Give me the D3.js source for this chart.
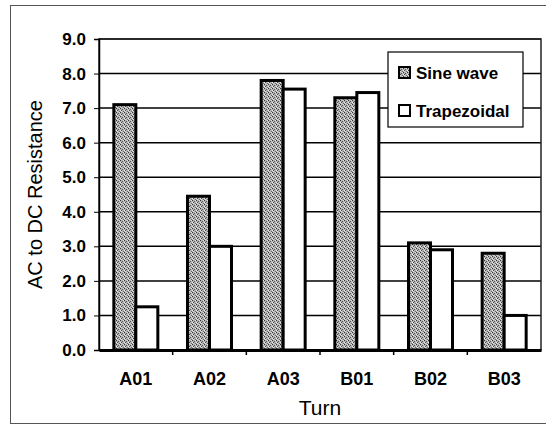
<!DOCTYPE html>
<html>
<head>
<meta charset="utf-8">
<script src="https://cdn.jsdelivr.net/npm/d3@7"></script>
<style>
  body { margin: 0; background: #fff; }
  svg { display: block; font-family: 'Liberation Sans', Arial, sans-serif; }
</style>
</head>
<body>
<svg width="546" height="425"></svg>
<script>
const turns = ['A01', 'A02', 'A03', 'B01', 'B02', 'B03']
const seriesNames = ['Sine wave', 'Trapezoidal']
const sineWave = [7.1, 4.45, 7.8, 7.3, 3.1, 2.8]
const trapezoidal = [1.25, 3.0, 7.55, 7.45, 2.9, 1.0]
const yTicks = [0, 1, 2, 3, 4, 5, 6, 7, 8, 9]

const svg = d3.select('svg')
const font = "'Liberation Sans', Arial, sans-serif"

// speckled gray fill for the sine wave bars
const defs = svg.append('defs')
const pat = defs.append('pattern')
  .attr('id', 'dots')
  .attr('width', 4).attr('height', 4)
  .attr('patternUnits', 'userSpaceOnUse')
pat.append('rect').attr('width', 4).attr('height', 4).attr('fill', '#b4b4b4')
const speck = [[0, 0, '#333'], [2, 1, '#555'], [1, 2, '#444'], [3, 3, '#666'], [3, 0, '#e0e0e0'], [1, 3, '#ddd'], [0, 2, '#eee']]
pat.selectAll('rect.s')
  .data(speck)
  .join('rect')
  .attr('class', 's')
  .attr('x', (d) => d[0]).attr('y', (d) => d[1])
  .attr('width', 1).attr('height', 1)
  .attr('fill', (d) => d[2])

// outer frame
svg.append('rect')
  .attr('x', 10.5).attr('y', 5.5)
  .attr('width', 540).attr('height', 418)
  .attr('fill', 'none').attr('stroke', '#555').attr('stroke-width', 1)

const plotLeft = 99, plotRight = 541, plotTop = 39, plotBottom = 350

const x = d3.scaleBand().domain(turns).range([plotLeft, plotRight])
const inner = d3.scaleBand().domain(seriesNames).range([0, 44])
const y = d3.scaleLinear().domain([0, 9]).range([plotBottom, plotTop])

// gridlines
svg.append('g')
  .selectAll('line')
  .data(yTicks.slice(1))
  .join('line')
  .attr('x1', plotLeft).attr('x2', plotRight)
  .attr('y1', (d) => y(d))
  .attr('y2', (d) => y(d))
  .attr('stroke', '#000').attr('stroke-width', 1.5)

// plot border
svg.append('rect')
  .attr('x', plotLeft).attr('y', plotTop)
  .attr('width', plotRight - plotLeft).attr('height', plotBottom - plotTop)
  .attr('fill', 'none').attr('stroke', '#222').attr('stroke-width', 1.5)

// bars
const data = []
turns.forEach((t, i) => {
  data.push({ turn: t, series: seriesNames[0], value: sineWave[i] })
  data.push({ turn: t, series: seriesNames[1], value: trapezoidal[i] })
})
const groupOffset = (x.bandwidth() - 44) / 2
svg.append('g')
  .selectAll('rect')
  .data(data)
  .join('rect')
  .attr('x', (d) => x(d.turn) + groupOffset + inner(d.series))
  .attr('width', inner.bandwidth())
  .attr('y', (d) => y(d.value))
  .attr('height', (d) => y(0) - y(d.value))
  .attr('fill', (d) => (d.series === seriesNames[0] ? 'url(#dots)' : '#fff'))
  .attr('stroke', '#000').attr('stroke-width', 3)

// y axis
const yAxis = svg.append('g')
  .attr('transform', `translate(${plotLeft},0)`)
  .call(d3.axisLeft(y).tickValues(yTicks).tickFormat(d3.format('.1f')).tickSize(5).tickPadding(8))
yAxis.select('.domain').attr('stroke', '#000').attr('stroke-width', 1.5)
yAxis.selectAll('.tick line').attr('stroke', '#000')
yAxis.selectAll('text')
  .attr('font-size', 17).attr('fill', '#000')
  .attr('font-family', font)
  .style('font-weight', 'bold')

// x axis
const xAxis = svg.append('g')
  .attr('transform', `translate(0,${plotBottom})`)
  .call(d3.axisBottom(x).tickSize(0).tickPadding(22))
xAxis.select('.domain').attr('stroke', '#000').attr('stroke-width', 3)
xAxis.selectAll('text')
  .attr('font-size', 18).attr('fill', '#000')
  .attr('font-family', font)
  .style('font-weight', 'bold')
// category separator ticks
svg.append('g')
  .selectAll('line')
  .data(turns.slice(1))
  .join('line')
  .attr('x1', (d) => x(d)).attr('x2', (d) => x(d))
  .attr('y1', plotBottom).attr('y2', plotBottom + 5)
  .attr('stroke', '#000').attr('stroke-width', 1.5)

// axis titles
svg.append('text')
  .attr('x', (plotLeft + plotRight) / 2).attr('y', 415)
  .attr('text-anchor', 'middle')
  .attr('font-size', 21)
  .text('Turn')
svg.append('text')
  .attr('transform', `translate(42,${(plotTop + plotBottom) / 2}) rotate(-90)`)
  .attr('text-anchor', 'middle')
  .attr('font-size', 20)
  .text('AC to DC Resistance')

// legend
const legend = svg.append('g').attr('transform', 'translate(388,52)')
legend.append('rect')
  .attr('width', 135).attr('height', 75)
  .attr('fill', '#fff').attr('stroke', '#000').attr('stroke-width', 1.2)
const items = legend.selectAll('g.item')
  .data(seriesNames)
  .join('g')
  .attr('class', 'item')
  .attr('transform', (d, i) => `translate(11,${20 + i * 38})`)
items.append('rect')
  .attr('x', 0).attr('y', -5)
  .attr('width', 11).attr('height', 11)
  .attr('fill', (d, i) => (i === 0 ? 'url(#dots)' : '#fff'))
  .attr('stroke', '#000').attr('stroke-width', 2)
items.append('text')
  .attr('x', 17).attr('y', 6.5)
  .attr('font-size', 17)
  .style('font-weight', 'bold')
  .attr('fill', '#000')
  .text((d) => d)
</script>
</body>
</html>
